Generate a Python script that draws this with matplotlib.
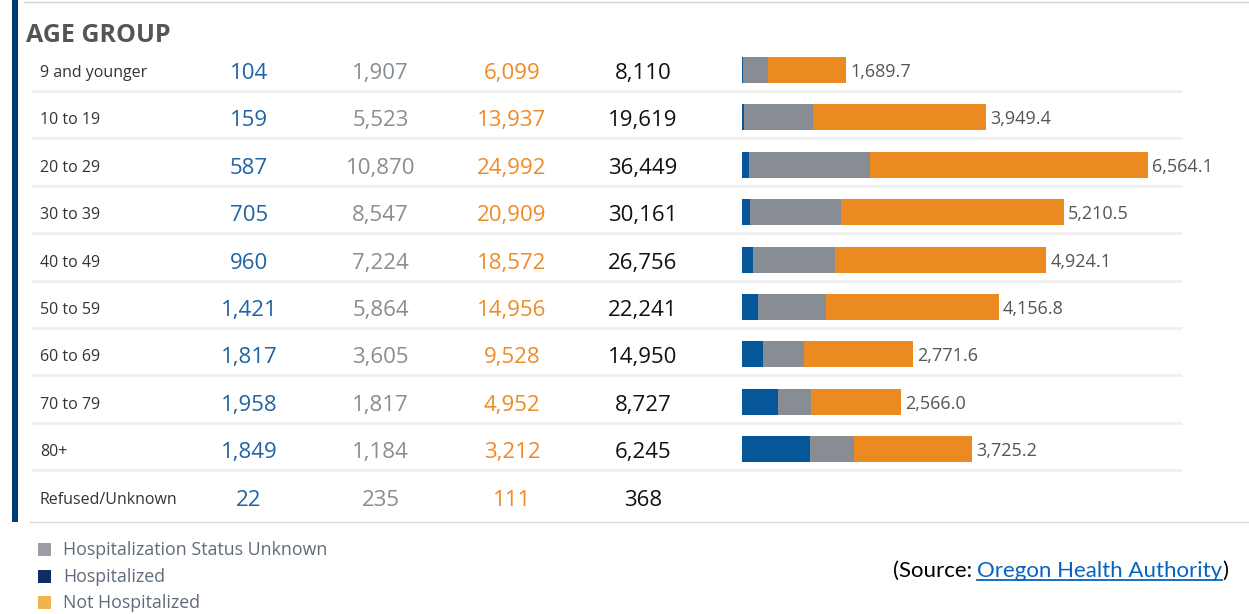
import matplotlib.pyplot as plt
from matplotlib.patches import Rectangle

plt.rcParams['font.family'] = ['Open Sans', 'DejaVu Sans']

# table data
age_groups = ["9 and younger", "10 to 19", "20 to 29", "30 to 39", "40 to 49",
              "50 to 59", "60 to 69", "70 to 79", "80+", "Refused/Unknown"]
hospitalized = [104, 159, 587, 705, 960, 1421, 1817, 1958, 1849, 22]
status_unknown = [1907, 5523, 10870, 8547, 7224, 5864, 3605, 1817, 1184, 235]
not_hospitalized = [6099, 13937, 24992, 20909, 18572, 14956, 9528, 4952, 3212, 111]
total_cases = [8110, 19619, 36449, 30161, 26756, 22241, 14950, 8727, 6245, 368]
# cases per 100,000 (no bar for Refused/Unknown)
rate_per_100k = [1689.7, 3949.4, 6564.1, 5210.5, 4924.1, 4156.8, 2771.6, 2566.0, 3725.2]

legend_labels = ["Hospitalization Status Unknown", "Hospitalized", "Not Hospitalized"]
legend_colors = ["#9a9da3", "#0e2d62", "#f0b54a"]

BLUE_TXT = "#1f63a4"
GRAY_TXT = "#878e93"
ORANGE_TXT = "#f08a24"
BAR_BLUE = "#06569a"
BAR_GRAY = "#878d92"
BAR_ORANGE = "#eb8a20"

W, H = 1249, 614
fig = plt.figure(figsize=(W / 100, H / 100), dpi=100)

# background axes in pixel units, used for the table layout
bg = fig.add_axes([0, 0, 1, 1])
bg.set_xlim(0, W)
bg.set_ylim(H, 0)
bg.axis('off')

pitch = 47.4
base0 = 79  # baseline of the first row of numbers

bg.add_patch(Rectangle((12, 0), 6.5, 522, color="#003b73", lw=0))
bg.plot([24, W], [2, 2], color="#d4d4d4", lw=1)
bg.plot([30, W], [522, 522], color="#d8d8d8", lw=1)

bg.text(26, 42, "AGE GROUP", fontsize=18, fontweight='bold', color="#555555", va='baseline')

for i, grp in enumerate(age_groups):
    yb = base0 + i * pitch
    bg.text(40, yb - 2, grp, fontsize=11.5, color="#333333", va='baseline')
    bg.text(249, yb, f"{hospitalized[i]:,}", fontsize=16, color=BLUE_TXT, ha='center', va='baseline')
    bg.text(380.5, yb, f"{status_unknown[i]:,}", fontsize=16, color=GRAY_TXT, ha='center', va='baseline')
    bg.text(512, yb, f"{not_hospitalized[i]:,}", fontsize=16, color=ORANGE_TXT, ha='center', va='baseline')
    bg.text(643, yb, f"{total_cases[i]:,}", fontsize=16, color="#111111", ha='center', va='baseline')
    if i < len(age_groups) - 1:
        bg.plot([32, 1182], [91 + i * pitch] * 2, color="#f0f0f0", lw=2.2, solid_capstyle='butt')

# stacked bars: rate split by hospitalization share
n = len(rate_per_100k)
rows = list(range(n))
seg_h = [rate_per_100k[i] * hospitalized[i] / total_cases[i] for i in rows]
seg_u = [rate_per_100k[i] * status_unknown[i] / total_cases[i] for i in rows]
seg_n = [rate_per_100k[i] * not_hospitalized[i] / total_cases[i] for i in rows]

top = 70 - pitch / 2
ax = fig.add_axes([742 / W, 1 - (top + n * pitch) / H, 405.7 / W, n * pitch / H])
ax.barh(rows, seg_h, height=0.55, color=BAR_BLUE)
ax.barh(rows, seg_u, left=seg_h, height=0.55, color=BAR_GRAY)
ax.barh(rows, seg_n, left=[a + b for a, b in zip(seg_h, seg_u)], height=0.55, color=BAR_ORANGE)
ax.set_xlim(0, max(rate_per_100k))
ax.set_ylim(n - 0.5, -0.5)
ax.axis('off')
for i in rows:
    ax.annotate(f"{rate_per_100k[i]:,.1f}", (rate_per_100k[i], i), xytext=(3, -1.5),
                textcoords='offset points', va='center', fontsize=13, color="#555555",
                annotation_clip=False)

# legend
for k, (lab, col) in enumerate(zip(legend_labels, legend_colors)):
    yc = 550 + k * 26.5
    bg.add_patch(Rectangle((38, yc - 7), 13, 13, color=col, lw=0))
    bg.text(63, yc, lab, fontsize=12.8, color="#5f6b7a", va='center')

# source line, laid out from the right
r = fig.canvas.get_renderer()
sy = 577
src_font = dict(fontsize=16, family=['Lato', 'DejaVu Sans'], va='baseline', ha='right')
t3 = bg.text(1228, sy, ")", color="black", **src_font)
w3 = t3.get_window_extent(r).width
t2 = bg.text(1228 - w3, sy, "Oregon Health Authority", color="#0563c1", **src_font)
bb2 = t2.get_window_extent(r)
bg.text(bb2.x0 - 5, sy, "(Source:", color="black", **src_font)
bg.plot([bb2.x0, bb2.x1], [sy + 2.5, sy + 2.5], color="#0563c1", lw=1.3)

fig.savefig("out.png", dpi=100)
